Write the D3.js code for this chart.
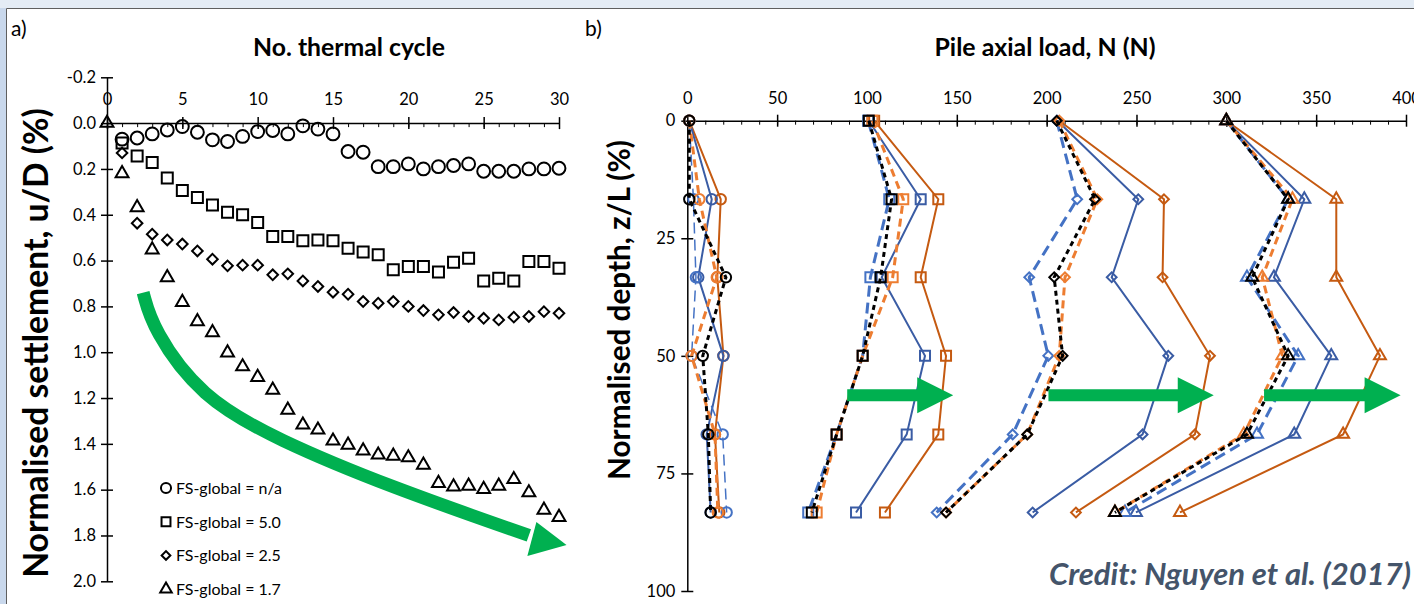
<!DOCTYPE html>
<html>
<head>
<meta charset="utf-8">
<script src="https://cdn.jsdelivr.net/npm/d3@7"></script>
<style>
    body { margin: 0; background: #fff; }
    svg { display: block; font-family: Lato, "Open Sans", sans-serif; }
</style>
</head>
<body>
<svg id="chart"></svg>
<script>
// ---- panel a) settlement vs thermal cycle ----
const cycles = [0, 1, 2, 3, 4, 5, 6, 7, 8, 9, 10, 11, 12, 13, 14, 15, 16, 17, 18, 19, 20, 21, 22, 23, 24, 25, 26, 27, 28, 29, 30];
const settleNA = [null, 0.07, 0.065, 0.047, 0.03, 0.015, 0.04, 0.073, 0.08, 0.058, 0.037, 0.032, 0.047, 0.012, 0.026, 0.047, 0.124, 0.127, 0.19, 0.19, 0.178, 0.2, 0.19, 0.185, 0.178, 0.21, 0.21, 0.21, 0.2, 0.2, 0.197];
const settle50 = [null, 0.087, 0.143, 0.172, 0.24, 0.294, 0.325, 0.357, 0.389, 0.4, 0.434, 0.495, 0.495, 0.514, 0.51, 0.514, 0.546, 0.563, 0.575, 0.64, 0.626, 0.626, 0.65, 0.607, 0.59, 0.689, 0.677, 0.689, 0.604, 0.604, 0.633];
const settle25 = [null, 0.13, 0.437, 0.485, 0.51, 0.528, 0.558, 0.594, 0.623, 0.62, 0.62, 0.662, 0.658, 0.689, 0.713, 0.738, 0.747, 0.779, 0.786, 0.779, 0.8, 0.818, 0.837, 0.827, 0.844, 0.852, 0.859, 0.847, 0.844, 0.823, 0.83];
const settle17 = [0, 0.22, 0.368, 0.553, 0.674, 0.782, 0.866, 0.914, 1.002, 1.063, 1.109, 1.165, 1.252, 1.317, 1.339, 1.387, 1.405, 1.43, 1.448, 1.453, 1.46, 1.492, 1.572, 1.587, 1.584, 1.598, 1.584, 1.555, 1.613, 1.689, 1.72];
const legendLabels = ["FS-global = n/a", "FS-global = 5.0", "FS-global = 2.5", "FS-global = 1.7"];
const cycleTicks = [0, 5, 10, 15, 20, 25, 30];
const settleTicks = [-0.2, 0, 0.2, 0.4, 0.6, 0.8, 1.0, 1.2, 1.4, 1.6, 1.8, 2.0];
// trend arrow (cycle, settlement)
const trendPath = [[2.4, 0.74], [3.05, 0.9], [6.2, 1.195], [11.3, 1.383], [18.8, 1.588], [28.0, 1.80]];
const trendHead = [[30.5, 1.842], [28.5, 1.741], [27.9, 1.89]];

// ---- panel b) axial load profiles ----
const depthPct = [0, 16.7, 33.3, 50, 66.7, 83.3];
// each array: [circle group, square group, diamond group, triangle group]
const blackDashed = [
    [1.1, 1.1, 21.5, 8.6, 11.7, 13],
    [101, 113.7, 107.6, 97.6, 83.1, 69.3],
    [205.6, 226.9, 204.2, 208.9, 189.2, 144],
    [300, 334.4, 314.4, 334.4, 311.5, 238]
];
const orangeDashed = [
    [1.1, 6.7, 16.4, 2.4, 15.4, 17],
    [103, 120.2, 114.3, 97.6, 83.1, 72],
    [207, 228.2, 210.2, 207, 189.2, 144],
    [300, 336.8, 320, 331.2, 309.7, 238]
];
const blueDashed = [
    [1.1, 3.4, 4.8, 2.4, 19.7, 21.9],
    [100.7, 112.4, 101.9, 97.6, 83.1, 67.3],
    [205.6, 217, 190.3, 200.9, 181.1, 138.8],
    [300, 334.4, 311.5, 340, 317.1, 243.6]
];
const blueSolid = [
    [1.1, 13.6, 6.1, 20.1, 10.8, 13],
    [101, 129.9, 108.2, 132.3, 122.1, 93.9],
    [206, 251, 236.2, 267.7, 253.4, 192.2],
    [300, 343.4, 326.5, 358.4, 337.8, 249.7]
];
const orangeSolid = [
    [1.1, 18.6, 16.7, 20.1, 15.4, 17.8],
    [104, 139.7, 129.9, 144, 139.7, 110],
    [207, 265.3, 264.5, 290.9, 282.5, 216.3],
    [300, 361.2, 361.2, 385.5, 365, 274.2]
];
const loadTicks = [0, 50, 100, 150, 200, 250, 300, 350, 400];
const depthTicks = [0, 25, 50, 75, 100];
// green arrows: [start load, tip load] at depth
const shiftArrows = [[89, 148], [201, 293], [321, 397]];
const shiftDepth = 58.4;

const W = 1414, H = 604;
const svg = d3.select('#chart').attr('width', W).attr('height', H);

// frame strips
svg.append('rect').attr('x', 0).attr('y', 0).attr('width', W).attr('height', 8).attr('fill', '#e4ecf5');
svg.append('rect').attr('x', 0).attr('y', 8).attr('width', 6).attr('height', H - 8).attr('fill', '#c9d8ec');
svg.append('line').attr('x1', 6.5).attr('x2', W).attr('y1', 8.5).attr('y2', 8.5).attr('stroke', '#5f5f5f');
svg.append('line').attr('x1', 6.5).attr('x2', 6.5).attr('y1', 8.5).attr('y2', H).attr('stroke', '#5f5f5f');

const green = '#00b050';
const symbolTypes = [d3.symbolCircle, d3.symbolSquare, d3.symbolSquare, d3.symbolTriangle];

function marker(g, i, size) {
    // diamond = rotated square
    const path = d3.symbol().type(symbolTypes[i]).size(size[i]);
    return g.attr('d', path).attr('transform', d => `translate(${d[0]},${d[1]})` + (i === 2 ? ' rotate(45)' : ''));
}

// scale a text's font so that it spans the given length
function fitText(t, len) {
    const fs = +t.attr('font-size');
    t.attr('font-size', fs * len / t.node().getComputedTextLength());
    return t;
}

const fmtA = d => d3.format('.1f')(d).replace('\u2212', '-');

// ================= panel a =================
const xA = d3.scaleLinear().domain([0, 30]).range([107, 559]);
const yA = d3.scaleLinear().domain([-0.2, 2.0]).range([77.3, 581.3]);

const gA = svg.append('g');

gA.append('text').attr('x', 11).attr('y', 36).attr('font-size', 21).text('a)');

// x axis along settlement = 0
const xAxisA = gA.append('g').attr('transform', `translate(0,${yA(0)})`)
    .call(d3.axisTop(xA).tickValues(cycleTicks).tickSize(0).tickPadding(18).tickSizeOuter(0));
xAxisA.selectAll('.tick line').attr('y1', -6).attr('y2', 6);
gA.append('g').attr('transform', `translate(0,${yA(0)})`)
    .call(d3.axisBottom(xA).tickValues(cycles).tickSize(4).tickFormat('').tickSizeOuter(0))
    .call(g => g.select('.domain').remove());

const yAxisA = gA.append('g').attr('transform', `translate(${xA(0)},0)`)
    .call(d3.axisLeft(yA).tickValues(settleTicks).tickFormat(fmtA).tickSize(0).tickPadding(11).tickSizeOuter(0));
yAxisA.selectAll('.tick line').attr('x1', -6).attr('x2', 6);

[xAxisA, yAxisA].forEach(ax => {
    ax.select('.domain').attr('stroke', '#000').attr('stroke-width', 1.5);
    ax.selectAll('.tick line').attr('stroke', '#000').attr('stroke-width', 1.5);
    ax.selectAll('.tick text').attr('font-size', 16.5).attr('fill', '#000').attr('font-family', 'Lato, sans-serif');
});

fitText(gA.append('text').attr('x', 349).attr('y', 56).attr('text-anchor', 'middle')
    .attr('font-size', 20).attr('font-weight', 'bold').text('No. thermal cycle'), 192);
fitText(gA.append('text').attr('transform', `translate(48,343) rotate(-90)`).attr('text-anchor', 'middle')
    .attr('font-size', 20).attr('font-weight', 'bold').text('Normalised settlement, u/D (%)'), 470);

// trend arrow
const lineA = d3.line().x(d => xA(d[0])).y(d => yA(d[1])).curve(d3.curveBasis);
gA.append('path').attr('d', lineA(trendPath)).attr('fill', 'none').attr('stroke', green).attr('stroke-width', 13);
gA.append('path').attr('d', d3.line().x(d => xA(d[0])).y(d => yA(d[1]))(trendHead) + 'Z').attr('fill', green);

// scatter series
const settleSeries = [settleNA, settle50, settle25, settle17];
const sizeA = [130, 121, 56, 72];
settleSeries.forEach((vals, i) => {
    const pts = cycles.map((c, k) => [c, vals[k]]).filter(d => d[1] !== null)
        .map(d => [xA(d[0]), yA(d[1])]);
    gA.append('g').selectAll('path').data(pts).join('path')
        .call(g => marker(g, i, sizeA))
        .attr('fill', 'none').attr('stroke', '#000').attr('stroke-width', 2);
});

// legend
const legA = gA.append('g');
legendLabels.forEach((lab, i) => {
    const ly = 488 + i * 33.7;
    legA.append('path').datum([166, ly]).call(g => marker(g, i, [80, 80, 38, 58]))
        .attr('fill', 'none').attr('stroke', '#000').attr('stroke-width', 2);
    const t = legA.append('text').attr('x', 176).attr('y', ly + 6).attr('font-size', 15).text(lab);
    if (i === 0) fitText(t, 106);
    else t.attr('font-size', legA.select('text').attr('font-size'));
});

// ================= panel b =================
const xB = d3.scaleLinear().domain([0, 400]).range([687.3, 1406]);
const yB = d3.scaleLinear().domain([0, 100]).range([120.7, 591]);
const gB = svg.append('g');

gB.append('text').attr('x', 585).attr('y', 36).attr('font-size', 21).text('b)');

const xAxisB = gB.append('g').attr('transform', `translate(0,${yB(0)})`)
    .call(d3.axisTop(xB).tickValues(loadTicks).tickSize(0).tickPadding(17).tickSizeOuter(0));
xAxisB.selectAll('.tick line').attr('y1', -6).attr('y2', 6);
gB.append('g').attr('transform', `translate(0,${yB(0)})`)
    .call(d3.axisBottom(xB).ticks(40).tickSize(4).tickFormat('').tickSizeOuter(0))
    .call(g => g.select('.domain').remove());

const yAxisB = gB.append('g').attr('transform', `translate(${xB(0)},0)`)
    .call(d3.axisLeft(yB).tickValues(depthTicks).tickSize(0).tickPadding(12).tickSizeOuter(0));
yAxisB.selectAll('.tick line').attr('x1', -6).attr('x2', 6);

[xAxisB, yAxisB].forEach(ax => {
    ax.select('.domain').attr('stroke', '#000').attr('stroke-width', 1.5);
    ax.selectAll('.tick line').attr('stroke', '#000').attr('stroke-width', 1.5);
    ax.selectAll('.tick text').attr('font-size', 16.5).attr('fill', '#000').attr('font-family', 'Lato, sans-serif');
});

fitText(gB.append('text').attr('x', 1045).attr('y', 56).attr('text-anchor', 'middle')
    .attr('font-size', 20).attr('font-weight', 'bold').text('Pile axial load, N (N)'), 221);
fitText(gB.append('text').attr('transform', `translate(630,310) rotate(-90)`).attr('text-anchor', 'middle')
    .attr('font-size', 20).attr('font-weight', 'bold').text('Normalised depth, z/L (%)'), 340);

// profile lines, drawn back to front
const lineStyles = [
    {vals: orangeSolid, color: '#c55a11', width: 2, dash: null},
    {vals: blueSolid, color: '#3a5ca4', width: 2, dash: null},
    {vals: blueDashed, color: '#4472c4', width: 3, dash: '11,6'},
    {vals: orangeDashed, color: '#ed7d31', width: 3, dash: '8,5'},
    {vals: blackDashed, color: '#000', width: 3, dash: '5,4'}
];
const sizeB = [85, 100, 48, 62];
const lineB = d3.line().x(d => xB(d[0])).y(d => yB(d[1]));

lineStyles.forEach(s => {
    s.vals.forEach((loads, gi) => {
        const pts = loads.map((v, k) => [v, depthPct[k]]);
        const grp = gB.append('g');
        grp.append('path').attr('d', lineB(pts)).attr('fill', 'none')
            .attr('stroke', s.color).attr('stroke-width', gi === 0 && s.dash === '11,6' ? 1.5 : s.width)
            .attr('stroke-dasharray', s.dash);
        grp.selectAll('.mk').data(pts.map(d => [xB(d[0]), yB(d[1])])).join('path')
            .attr('class', 'mk')
            .call(g => marker(g, gi, sizeB))
            .attr('fill', 'none').attr('stroke', s.color).attr('stroke-width', 2);
    });
});

// shift arrows
shiftArrows.forEach(a => {
    const x0 = xB(a[0]), x1 = xB(a[1]), y = yB(shiftDepth);
    const hl = 36;
    gB.append('path')
        .attr('d', `M${x0},${y - 6}L${x1 - hl},${y - 6}L${x1 - hl},${y - 18}L${x1},${y}L${x1 - hl},${y + 18}L${x1 - hl},${y + 6}L${x0},${y + 6}Z`)
        .attr('fill', green);
});

fitText(svg.append('text').attr('x', 1411).attr('y', 585).attr('text-anchor', 'end')
    .attr('font-size', 24).attr('font-weight', 'bold').attr('font-style', 'italic')
    .attr('fill', '#44546a').text('Credit: Nguyen et al. (2017)'), 362);
</script>
</body>
</html>
